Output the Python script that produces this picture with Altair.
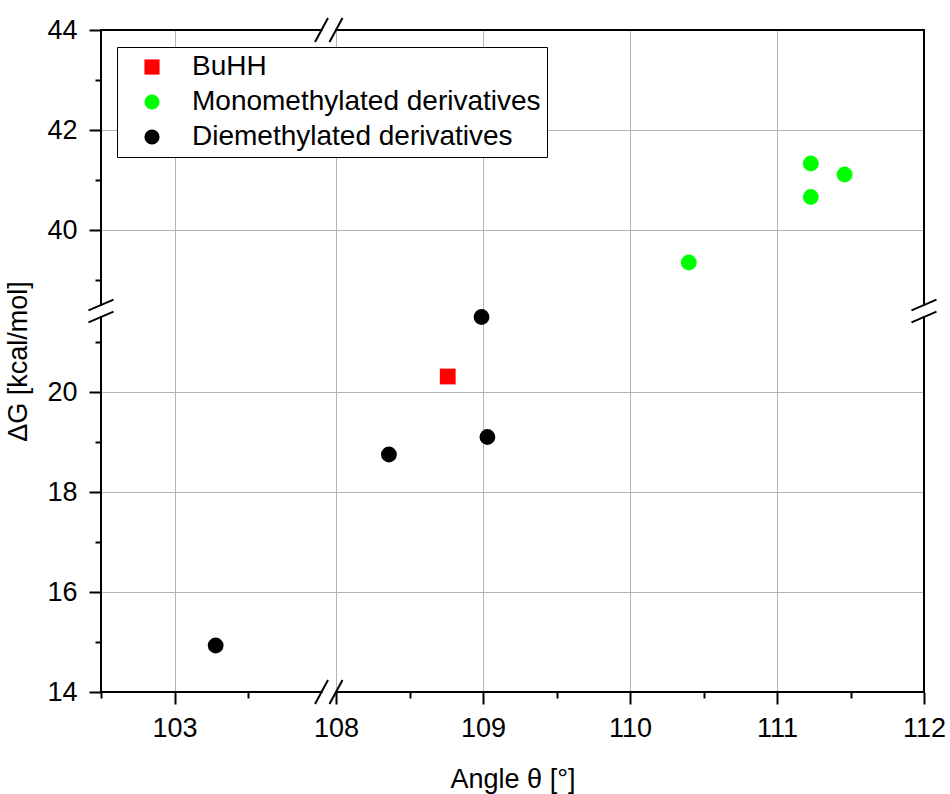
import altair as alt
import pandas as pd

# ---- data ----
series = ["BuHH", "Monomethylated derivatives", "Diemethylated derivatives"]
colors = ["#ff0000", "#00ff00", "#000000"]
shapes = ["square", "circle", "circle"]

buhh_angle = [108.76]
buhh_dg = [20.31]
mono_angle = [110.40, 111.23, 111.23, 111.46]
mono_dg = [39.35, 41.33, 40.66, 41.11]
di_angle = [103.28, 108.36, 108.99, 109.03]
di_dg = [14.93, 18.75, 21.50, 19.10]

x_segments = [102.5, 104, 108, 112]   # broken x axis: 102.5-104 | 108-112
y_segments = [14, 21.5, 38.5, 44]     # broken y axis: 14-21.5 | 38.5-44
x_ticks = [102.5, 103, 103.5, 108, 108.5, 109, 109.5, 110, 110.5, 111, 111.5, 112]
y_ticks = [14, 15, 16, 17, 18, 19, 20, 21, 39, 40, 41, 42, 43, 44]

df = pd.DataFrame({
    "angle": buhh_angle + mono_angle + di_angle,
    "dG": buhh_dg + mono_dg + di_dg,
    "series": [series[0]] * len(buhh_angle) + [series[1]] * len(mono_angle) + [series[2]] * len(di_angle),
})

# ---- piecewise scales (axis breaks) ----
W, H = 823, 662
PX = 147.0
PY = 50.0
gap_x = W - PX * ((x_segments[1] - x_segments[0]) + (x_segments[3] - x_segments[2]))
gap_y = H - PY * ((y_segments[1] - y_segments[0]) + (y_segments[3] - y_segments[2]))
x_range = [0, PX * 1.5, PX * 1.5 + gap_x, W]
y_range = [H, H - PY * 7.5, H - PY * 7.5 - gap_y, 0]

xscale = alt.Scale(domain=x_segments, range=x_range, nice=False, zero=False)
yscale = alt.Scale(domain=y_segments, range=y_range, nice=False, zero=False)

xaxis = alt.Axis(
    values=x_ticks, title="Angle θ [°]", domain=False, grid=True,
    labelExpr="datum.value % 1 === 0 ? format(datum.value, 'd') : ''",
    tickSize={"condition": {"test": "datum.value % 1 !== 0", "value": 6}, "value": 12},
    gridOpacity={"condition": {"test": "datum.value % 1 !== 0 || datum.value == 112", "value": 0}, "value": 1},
    labelFlush=False, labelOverlap=False, labelPadding=11, titlePadding=25,
)
yaxis = alt.Axis(
    values=y_ticks, title="ΔG [kcal/mol]", domain=False, grid=True,
    labelExpr="datum.value % 2 === 0 ? format(datum.value, 'd') : ''",
    tickSize={"condition": {"test": "datum.value % 2 !== 0", "value": 6}, "value": 12},
    gridOpacity={"condition": {"test": "datum.value % 2 !== 0 || datum.value == 14 || datum.value == 44", "value": 0}, "value": 1},
    labelFlush=False, labelOverlap=False, labelPadding=12, titlePadding=14,
)

legend = alt.Legend(
    title=None, orient="none", legendX=16, legendY=17,
    fillColor="white", strokeColor="black", padding=6,
    labelFontSize=28, labelOffset=26, symbolOffset=15, symbolSize=230,
    rowPadding=7, symbolStrokeWidth=0, labelColor="black", labelLimit=0,
)

points = alt.Chart(df).mark_point(filled=True, size=250, opacity=1, strokeWidth=0).encode(
    x=alt.X("angle:Q", scale=xscale, axis=xaxis),
    y=alt.Y("dG:Q", scale=yscale, axis=yaxis),
    color=alt.Color("series:N", scale=alt.Scale(domain=series, range=colors), legend=legend),
    shape=alt.Shape("series:N", scale=alt.Scale(domain=series, range=shapes), legend=legend),
)

# ---- frame segments (skipping the breaks) ----
frame_df = pd.DataFrame({
    "xa": [102.5, 108, 102.5, 108, 102.5, 102.5, 112, 112],
    "xb": [104, 112, 104, 112, 102.5, 102.5, 112, 112],
    "ya": [14, 14, 44, 44, 14, 38.5, 14, 38.5],
    "yb": [14, 14, 44, 44, 21.5, 44, 21.5, 44],
})
frame = alt.Chart(frame_df).mark_rule(color="black", strokeWidth=2, strokeCap="square").encode(
    x=alt.X("xa:Q", scale=xscale), x2="xb:Q",
    y=alt.Y("ya:Q", scale=yscale), y2="yb:Q",
)

# ---- break marks ----
xbreak_df = pd.DataFrame({"bx": [104, 108, 104, 108], "by": [14, 14, 44, 44]})
xbreaks = alt.Chart(xbreak_df).mark_rule(
    color="black", strokeWidth=2, xOffset=-6.5, x2Offset=6.5, yOffset=12, y2Offset=-12
).encode(
    x=alt.X("bx:Q", scale=xscale), x2="bx:Q",
    y=alt.Y("by:Q", scale=yscale), y2="by:Q",
)
ybreak_df = pd.DataFrame({"bx": [102.5, 102.5, 112, 112], "by": [21.5, 38.5, 21.5, 38.5]})
ybreaks = alt.Chart(ybreak_df).mark_rule(
    color="black", strokeWidth=2, xOffset=-12.5, x2Offset=12.5, yOffset=5.3, y2Offset=-5.3
).encode(
    x=alt.X("bx:Q", scale=xscale), x2="bx:Q",
    y=alt.Y("by:Q", scale=yscale), y2="by:Q",
)

chart = alt.layer(points, frame, xbreaks, ybreaks).properties(
    width=W, height=H,
    padding={"left": 101, "top": 30, "right": 26, "bottom": 102},
    autosize="none",
).configure(
    font="Liberation Sans",
).configure_view(
    stroke=None,
).configure_axis(
    labelFontSize=27, labelColor="black", labelFont="Liberation Sans",
    titleFontSize=27, titleColor="black", titleFontWeight="normal", titleFont="Liberation Sans",
    tickColor="black", tickWidth=2,
    gridColor="#b4b4b4", gridWidth=1,
).configure_legend(
    labelFont="Liberation Sans",
)

chart.save("out.html", embed_options={"renderer": "svg", "actions": False})
